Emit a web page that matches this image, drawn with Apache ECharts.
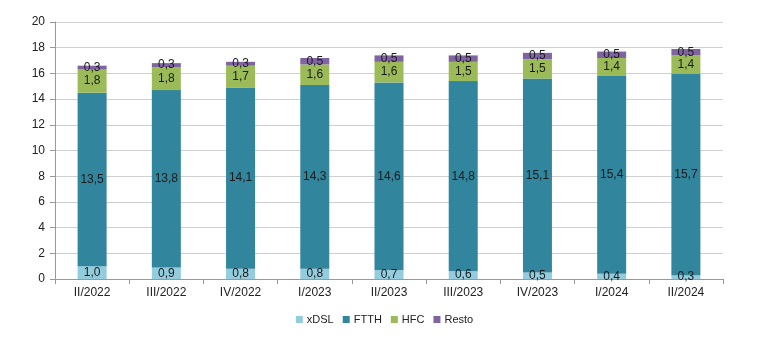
<!DOCTYPE html>
<html><head><meta charset="utf-8">
<script src="https://cdn.jsdelivr.net/npm/echarts@6/dist/echarts.min.js"></script>
<style>html,body{margin:0;padding:0;background:#fff}#c{width:769px;height:344px}</style>
</head><body><div id="c"></div>
<script>
const categories = ['II/2022','III/2022','IV/2022','I/2023','II/2023','III/2023','IV/2023','I/2024','II/2024'];
const xdsl = [1.0,0.9,0.8,0.8,0.7,0.6,0.5,0.4,0.3];
const ftth = [13.5,13.8,14.1,14.3,14.6,14.8,15.1,15.4,15.7];
const hfc = [1.8,1.8,1.7,1.6,1.6,1.5,1.5,1.4,1.4];
const resto = [0.3,0.3,0.3,0.5,0.5,0.5,0.5,0.5,0.5];
const yTicks = [0,2,4,6,8,10,12,14,16,18,20];

const font = 'Liberation Sans, Arial, sans-serif';
function mk(name, data, color){
  return {name, type:'bar', stack:'t', data, barWidth:29,
    itemStyle:{color},
    label:{show:true, position:'inside', color:'#1a1a1a', fontFamily:font, fontSize:12,
      formatter:p=>p.value.toFixed(1).replace('.',',')}};
}
const chart = echarts.init(document.getElementById('c'));
chart.setOption({
  animation:false,
  grid:{left:55,right:46,top:22,bottom:65},
  legend:{bottom:14,left:'center',itemWidth:7,itemHeight:7,itemGap:9,icon:'rect',
    textStyle:{fontFamily:font,fontSize:11,color:'#222',padding:[0,0,0,-1]}},
  xAxis:{type:'category',data:categories,
    axisLine:{lineStyle:{color:'#999'}},
    axisTick:{show:true,length:5,lineStyle:{color:'#999'}},
    axisLabel:{fontFamily:font,fontSize:12,color:'#222',margin:8}},
  yAxis:{type:'value',min:0,max:20,interval:2,
    axisLine:{show:true,lineStyle:{color:'#999'}},
    axisTick:{show:true,length:5,lineStyle:{color:'#999'}},
    splitLine:{lineStyle:{color:'#d0d0d0'}},
    axisLabel:{fontFamily:font,fontSize:12,color:'#222',margin:10,
      formatter:v=>yTicks.includes(v)?String(v):''}},
  series:[mk('xDSL',xdsl,'#93CDDD'),mk('FTTH',ftth,'#31859C'),mk('HFC',hfc,'#9BBB59'),mk('Resto',resto,'#8064A2')]
});
</script></body></html>
